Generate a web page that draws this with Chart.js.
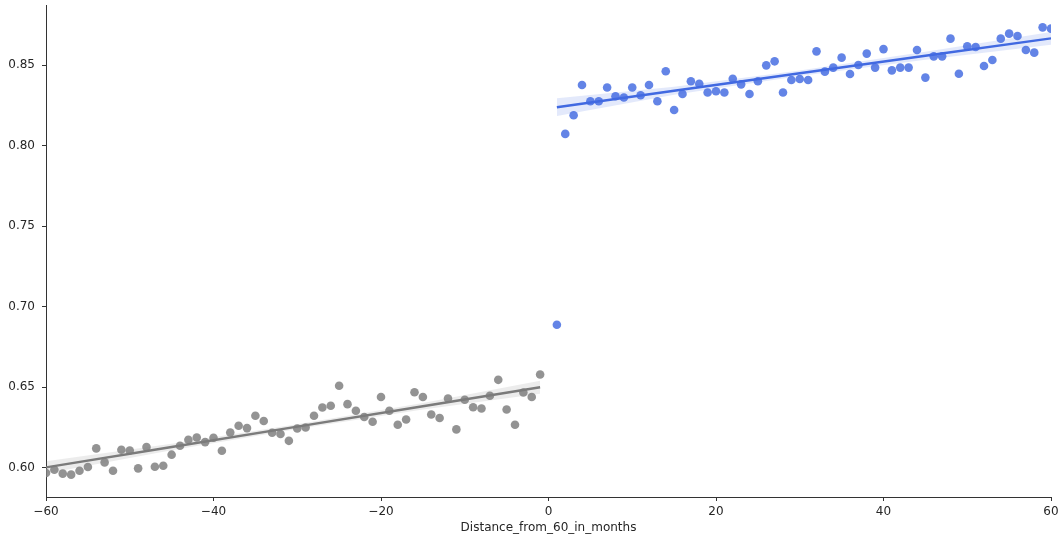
<!DOCTYPE html>
<html>
<head>
<meta charset="utf-8">
<title>Distance_from_60_in_months</title>
<script src="https://cdn.jsdelivr.net/npm/chart.js@4/dist/chart.umd.min.js"></script>
<style>
    html, body { margin: 0; padding: 0; background: #fff; }
    #wrap { width: 1062px; height: 540px; }
</style>
</head>
<body>
<div id="wrap"><canvas id="rdChart" width="1062" height="540"></canvas></div>
<script>
// Months before 60 (left group) and after (right group)
const beforeX = [-60, -59, -58, -57, -56, -55, -54, -53, -52, -51, -50, -49, -48, -47, -46, -45, -44, -43, -42, -41,
    -40, -39, -38, -37, -36, -35, -34, -33, -32, -31, -30, -29, -28, -27, -26, -25, -24, -23, -22, -21,
    -20, -19, -18, -17, -16, -15, -14, -13, -12, -11, -10, -9, -8, -7, -6, -5, -4, -3, -2, -1];
const beforeY = [0.5967, 0.5987, 0.5963, 0.5957, 0.5981, 0.6004, 0.6120, 0.6033, 0.5981, 0.6112,
    0.6107, 0.5996, 0.6128, 0.6006, 0.6012, 0.6081, 0.6136, 0.6174, 0.6188, 0.6159,
    0.6186, 0.6105, 0.6219, 0.6261, 0.6246, 0.6323, 0.6290, 0.6217, 0.6209, 0.6167,
    0.6244, 0.6250, 0.6323, 0.6374, 0.6385, 0.6509, 0.6395, 0.6354, 0.6315, 0.6286,
    0.6439, 0.6354, 0.6267, 0.6300, 0.6469, 0.6439, 0.6331, 0.6309, 0.6430, 0.6238,
    0.6422, 0.6376, 0.6368, 0.6447, 0.6546, 0.6362, 0.6267, 0.6467, 0.6439, 0.6579];

const afterX = [1, 2, 3, 4, 5, 6, 7, 8, 9, 10, 11, 12, 13, 14, 15, 16, 17, 18, 19, 20,
    21, 22, 23, 24, 25, 26, 27, 28, 29, 30, 31, 32, 33, 34, 35, 36, 37, 38, 39, 40,
    41, 42, 43, 44, 45, 46, 47, 48, 49, 50, 51, 52, 53, 54, 55, 56, 57, 58, 59, 60];
const afterY = [0.6888, 0.8074, 0.8190, 0.8378, 0.8277, 0.8277, 0.8362, 0.8308, 0.8300, 0.8362,
    0.8314, 0.8378, 0.8277, 0.8463, 0.8223, 0.8322, 0.8401, 0.8386, 0.8331, 0.8339,
    0.8331, 0.8417, 0.8382, 0.8322, 0.8401, 0.8500, 0.8525, 0.8331, 0.8409, 0.8415,
    0.8409, 0.8587, 0.8461, 0.8486, 0.8548, 0.8446, 0.8502, 0.8573, 0.8486, 0.8601,
    0.8469, 0.8486, 0.8486, 0.8595, 0.8424, 0.8556, 0.8556, 0.8666, 0.8448, 0.8618,
    0.8614, 0.8496, 0.8533, 0.8666, 0.8697, 0.8682, 0.8595, 0.8579, 0.8736, 0.8728];

// Fitted lines and their confidence bands
const beforeFitX = [-60, -45, -30, -15, -1];
const beforeFit = [0.6002, 0.6129, 0.6255, 0.6382, 0.6500];
const beforeUpper = [0.6040, 0.6149, 0.6270, 0.6402, 0.6540];
const beforeLower = [0.5964, 0.6109, 0.6240, 0.6362, 0.6460];

const afterFitX = [1, 15, 30, 45, 60];
const afterFit = [0.8240, 0.8342, 0.8451, 0.8560, 0.8668];
const afterUpper = [0.8295, 0.8367, 0.8468, 0.8585, 0.8708];
const afterLower = [0.8185, 0.8317, 0.8434, 0.8535, 0.8628];

const xTicks = [-60, -40, -20, 0, 20, 40, 60];
const yTicks = [0.60, 0.65, 0.70, 0.75, 0.80, 0.85];

const toPoints = (xs, ys) => xs.map((x, i) => ({ x: x, y: ys[i] }));

const axisColor = '#333333';
const textColor = '#262626';

const rdCtx = document.getElementById('rdChart');
new Chart(rdCtx, {
    type: 'scatter',
    data: {
        datasets: [
            // gray band (lower, then upper filling down to it)
            {
                data: toPoints(beforeFitX, beforeLower),
                showLine: true, pointRadius: 0, borderWidth: 0,
                borderColor: 'rgba(0,0,0,0)', fill: false, order: 5
            },
            {
                data: toPoints(beforeFitX, beforeUpper),
                showLine: true, pointRadius: 0, borderWidth: 0,
                borderColor: 'rgba(0,0,0,0)',
                backgroundColor: 'rgba(128,128,128,0.15)',
                fill: '-1', order: 5
            },
            // blue band
            {
                data: toPoints(afterFitX, afterLower),
                showLine: true, pointRadius: 0, borderWidth: 0,
                borderColor: 'rgba(0,0,0,0)', fill: false, order: 5
            },
            {
                data: toPoints(afterFitX, afterUpper),
                showLine: true, pointRadius: 0, borderWidth: 0,
                borderColor: 'rgba(0,0,0,0)',
                backgroundColor: 'rgba(65,105,225,0.15)',
                fill: '-1', order: 5
            },
            // points
            {
                data: toPoints(beforeX, beforeY),
                pointRadius: 4.3, pointHoverRadius: 4.3, borderWidth: 0,
                backgroundColor: 'rgba(128,128,128,0.85)', order: 3
            },
            {
                data: toPoints(afterX, afterY),
                pointRadius: 4.3, pointHoverRadius: 4.3, borderWidth: 0,
                backgroundColor: 'rgba(65,105,225,0.82)', order: 3
            },
            // regression lines
            {
                data: toPoints(beforeFitX, beforeFit),
                showLine: true, pointRadius: 0, borderWidth: 2.4,
                borderColor: '#7b7b7b', fill: false, order: 1
            },
            {
                data: toPoints(afterFitX, afterFit),
                showLine: true, pointRadius: 0, borderWidth: 2.4,
                borderColor: '#4169e1', fill: false, order: 1
            }
        ]
    },
    options: {
        responsive: false,
        animation: false,
        events: [],
        layout: {
            padding: { top: 5, right: 11, left: 0, bottom: 0 }
        },
        plugins: {
            legend: { display: false },
            tooltip: { enabled: false }
        },
        scales: {
            x: {
                type: 'linear',
                min: -60,
                max: 60,
                afterBuildTicks: function(scale) {
                    scale.ticks = xTicks.map(v => ({ value: v }));
                },
                afterFit: function(scale) {
                    scale.height = 43;
                    scale.paddingLeft = 0;
                    scale.paddingRight = 0;
                },
                grid: {
                    display: true,
                    drawOnChartArea: false,
                    drawTicks: true,
                    tickLength: 4,
                    tickColor: axisColor
                },
                border: { display: true, color: axisColor, width: 1 },
                ticks: {
                    color: textColor,
                    padding: 4,
                    maxRotation: 0,
                    font: { family: 'DejaVu Sans', size: 12 },
                    callback: function(value) {
                        return String(value).replace('-', '\u2212');
                    }
                },
                title: {
                    display: true,
                    text: 'Distance_from_60_in_months',
                    color: textColor,
                    padding: { top: 0, bottom: 5 },
                    font: { family: 'DejaVu Sans', size: 12 }
                }
            },
            y: {
                type: 'linear',
                min: 0.5818,
                max: 0.8875,
                afterBuildTicks: function(scale) {
                    scale.ticks = yTicks.map(v => ({ value: v }));
                },
                afterFit: function(scale) {
                    scale.width = 46;
                    // keep the top of the plot flush with the layout padding
                    scale.paddingTop = 0;
                    scale.paddingBottom = 0;
                },
                grid: {
                    display: true,
                    drawOnChartArea: false,
                    drawTicks: true,
                    tickLength: 4,
                    tickColor: axisColor
                },
                border: { display: true, color: axisColor, width: 1 },
                ticks: {
                    color: textColor,
                    padding: 7,
                    font: { family: 'DejaVu Sans', size: 12 },
                    callback: function(value) {
                        return value.toFixed(2);
                    }
                }
            }
        }
    }
});
</script>
</body>
</html>
